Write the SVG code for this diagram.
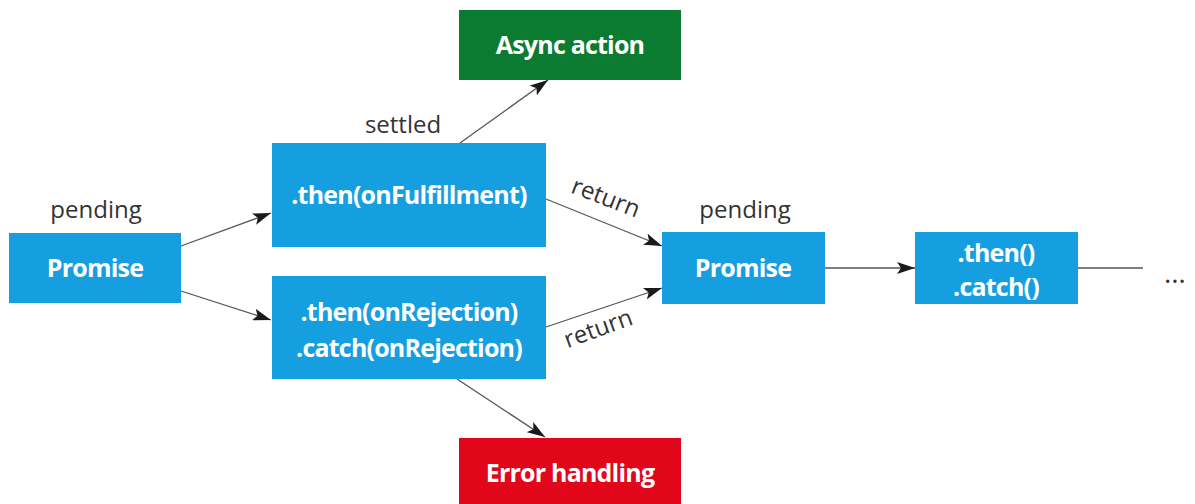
<svg xmlns="http://www.w3.org/2000/svg" width="1195" height="504" viewBox="0 0 1195 504">
  <defs>
    <marker id="arrow" viewBox="0 0 18 12" refX="18" refY="6" markerWidth="18" markerHeight="12" markerUnits="userSpaceOnUse" orient="auto">
      <path d="M0,0 L18,6 L0,12 L4,6 Z" fill="#1a1a1a"/>
    </marker>
  </defs>
  <style>
    .box { fill: #169fe0; }
    .ok { fill: #0b7b31; }
    .err { fill: #e2061b; }
    .node-text { font-family: "Open Sans", "Noto Sans", sans-serif; font-weight: 700; font-size: 25px; fill: #ffffff; text-anchor: middle; letter-spacing: -0.8px; }
    .label { font-family: "Open Sans", "Noto Sans", sans-serif; font-size: 24px; fill: #333333; text-anchor: middle; }
    .edge { stroke: #555555; stroke-width: 1.3; fill: none; }
  </style>
  <rect width="1195" height="504" fill="#ffffff"/>

  <!-- connectors -->
  <g id="connectors">
    <line class="edge" x1="181" y1="246" x2="271" y2="213" marker-end="url(#arrow)"/>
    <line class="edge" x1="181" y1="291" x2="271" y2="320" marker-end="url(#arrow)"/>
    <line class="edge" x1="460" y1="143" x2="548" y2="80" marker-end="url(#arrow)"/>
    <line class="edge" x1="546" y1="199" x2="662" y2="246" marker-end="url(#arrow)"/>
    <line class="edge" x1="546" y1="327" x2="662" y2="288" marker-end="url(#arrow)"/>
    <line class="edge" x1="457" y1="379" x2="545" y2="437" marker-end="url(#arrow)"/>
    <line class="edge" x1="825" y1="268" x2="915" y2="268" marker-end="url(#arrow)"/>
    <line class="edge" x1="1078" y1="268" x2="1143" y2="268"/>
    <text class="label" x="96" y="218">pending</text>
    <text class="label" x="403" y="133">settled</text>
    <text class="label" x="603" y="205" transform="rotate(21 603 205)">return</text>
    <text class="label" x="601" y="336" transform="rotate(-20 601 336)">return</text>
    <text class="label" x="745" y="218">pending</text>
    <text class="label" x="1175" y="283" style="font-size:28px">…</text>
  </g>

  <g id="promise1">
    <rect class="box" x="9" y="233" width="172" height="70"/>
    <text class="node-text" x="95" y="277">Promise</text>
  </g>
  <g id="then-fulfillment">
    <rect class="box" x="272" y="143" width="274" height="104"/>
    <text class="node-text" x="409" y="204">.then(onFulfillment)</text>
  </g>
  <g id="catch-rejection">
    <rect class="box" x="272" y="276" width="274" height="103"/>
    <text class="node-text" x="409" y="321">.then(onRejection)</text>
    <text class="node-text" x="409" y="357">.catch(onRejection)</text>
  </g>
  <g id="async-action">
    <rect class="ok" x="459" y="10" width="222" height="70"/>
    <text class="node-text" x="570" y="54">Async action</text>
  </g>
  <g id="error-handling">
    <rect class="err" x="459" y="438" width="222" height="70"/>
    <text class="node-text" x="570" y="482">Error handling</text>
  </g>
  <g id="promise2">
    <rect class="box" x="662" y="232" width="163" height="72"/>
    <text class="node-text" x="743" y="277">Promise</text>
  </g>
  <g id="then-catch">
    <rect class="box" x="915" y="232" width="163" height="72"/>
    <text class="node-text" x="996" y="262">.then()</text>
    <text class="node-text" x="996" y="296">.catch()</text>
  </g>
</svg>
